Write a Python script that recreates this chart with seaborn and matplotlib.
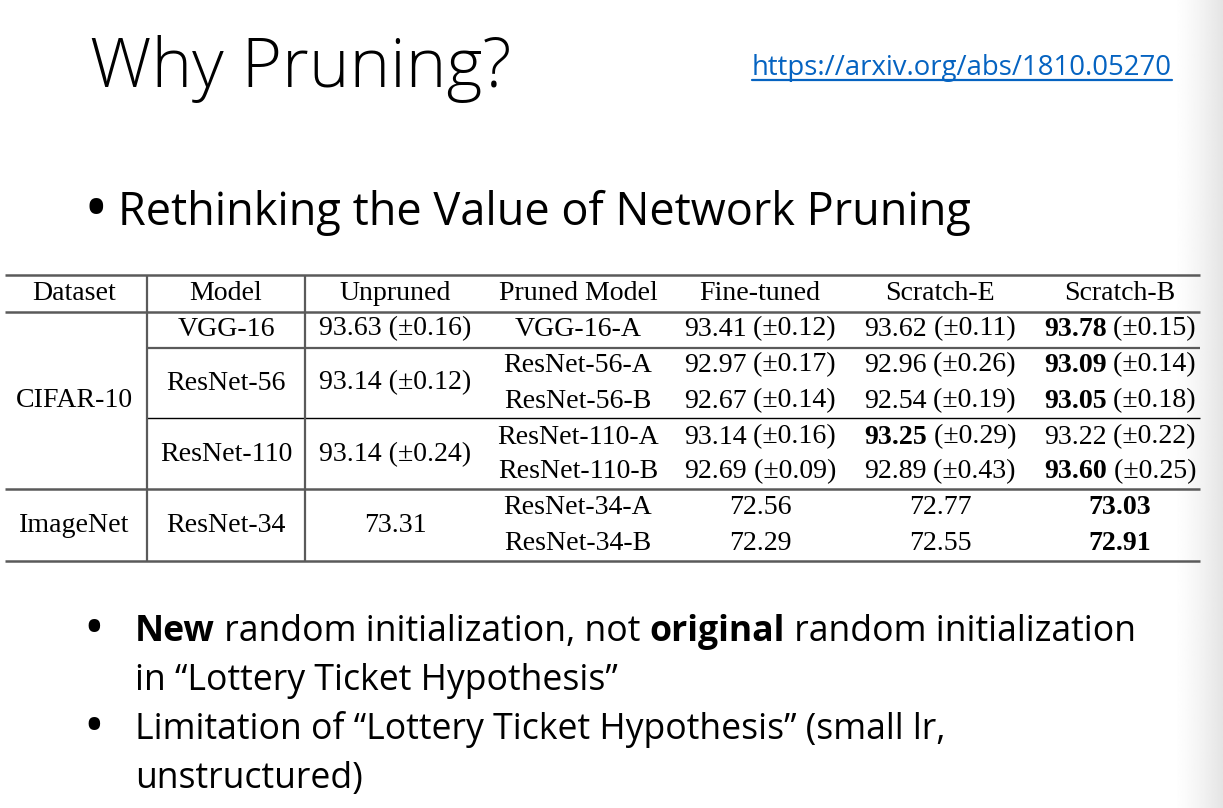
import numpy as np
import pandas as pd
import matplotlib
matplotlib.use("Agg")
import matplotlib.pyplot as plt
import seaborn as sns

# ---------------- data ----------------
title = "Why Pruning?"
url = "https://arxiv.org/abs/1810.05270"
bullet_main = "Rethinking the Value of Network Pruning"
headers = ["Dataset", "Model", "Unpruned", "Pruned Model", "Fine-tuned", "Scratch-E", "Scratch-B"]
datasets = ["CIFAR-10", "ImageNet"]
dataset_rows = [5, 2]
models = ["VGG-16", "ResNet-56", "ResNet-110", "ResNet-34"]
model_rows = [1, 2, 2, 2]
unpruned_mean = [93.63, 93.14, 93.14, 73.31]
unpruned_std = [0.16, 0.12, 0.24, None]
pruned_models = ["VGG-16-A", "ResNet-56-A", "ResNet-56-B", "ResNet-110-A",
                 "ResNet-110-B", "ResNet-34-A", "ResNet-34-B"]
fine_tuned = [93.41, 92.97, 92.67, 93.14, 92.69, 72.56, 72.29]
fine_tuned_std = [0.12, 0.17, 0.14, 0.16, 0.09, None, None]
scratch_e = [93.62, 92.96, 92.54, 93.25, 92.89, 72.77, 72.55]
scratch_e_std = [0.11, 0.26, 0.19, 0.29, 0.43, None, None]
scratch_b = [93.78, 93.09, 93.05, 93.22, 93.60, 73.03, 72.91]
scratch_b_std = [0.15, 0.14, 0.18, 0.22, 0.25, None, None]
notes = [
    [("New", "bold"), (" random initialization, not ", "normal"), ("original", "bold"),
     (" random initialization", "normal")],
    [("in “Lottery Ticket Hypothesis”", "normal")],
    [("Limitation of “Lottery Ticket Hypothesis” (small lr,", "normal")],
    [("unstructured)", "normal")],
]
note_bullets = [True, False, True, False]

# ---------------- figure ----------------
sns.set_theme(style="white")
plt.rcParams["text.color"] = "black"
W, H = 1223, 808
fig = plt.figure(figsize=(W / 100, H / 100), dpi=100)
ax = fig.add_axes([0, 0, 1, 1])
fig.patch.set_facecolor("white")
renderer = fig.canvas.get_renderer()

SANS = ["Open Sans", "DejaVu Sans"]
SERIF = ["Liberation Serif", "DejaVu Serif"]

# right-edge shadow
grad = 1.0 - 0.105 * np.linspace(0, 1, 60) ** 1.4
ax.imshow(np.tile(grad, (2, 1)), extent=[1172, W, H, 0], cmap="gray", vmin=0, vmax=1,
          aspect="auto", zorder=0, interpolation="bilinear")
ax.set_xlim(0, W)
ax.set_ylim(H, 0)
ax.axis("off")


def width_of(s, family, weight, size):
    t = ax.text(0, 0, s, fontsize=size, family=family, weight=weight)
    w = t.get_window_extent(renderer).width
    t.remove()
    return w


def fit(s, family, target, weight="normal"):
    return 40 * target / width_of(s, family, weight, 40)


def runs(x, y, parts, family, size, ha="left", color="black"):
    widths = [width_of(s, family, w, size) for s, w in parts]
    total = sum(widths)
    if ha == "center":
        x = x - total / 2
    for (s, w), wd in zip(parts, widths):
        ax.text(x, y, s, fontsize=size, family=family, weight=w, va="baseline",
                ha="left", color=color)
        x += wd


# title
ts = fit(title, SANS, 420, "light")
ax.text(90, 87, title, fontsize=ts, family=SANS, weight="light", va="baseline",
        color="black")

# url
us = fit(url, SANS, 420)
ax.text(752, 75, url, fontsize=us, family=SANS, va="baseline", color="#0563C1")
ax.plot([752, 1172], [79.5, 79.5], color="#0563C1", lw=1.6)

# main bullet
bs = fit(bullet_main, SANS, 852)
ax.text(96, 230, "•", fontsize=bs * 1.45, family=SANS, va="baseline", ha="center")
ax.text(118, 225, bullet_main, fontsize=bs, family=SANS, va="baseline")

# ---------------- table ----------------
col_x = [74, 226, 395, 578, 760, 940, 1120]
row_y = [327, 363, 399, 435, 470, 506, 541]
head_y = 292
fs = fit("93.63 (±0.16)", SERIF, 152)
off = 8.5

for cx, h in zip(col_x, headers):
    ax.text(cx, head_y + off, h, fontsize=fs, family=SERIF, ha="center", va="baseline")

r = 0
for d, n in zip(datasets, dataset_rows):
    cy = (row_y[r] + row_y[r + n - 1]) / 2
    ax.text(col_x[0], cy + off, d, fontsize=fs, family=SERIF, ha="center", va="baseline")
    r += n

r = 0
for m, n, um, us_ in zip(models, model_rows, unpruned_mean, unpruned_std):
    cy = (row_y[r] + row_y[r + n - 1]) / 2
    ax.text(col_x[1], cy + off, m, fontsize=fs, family=SERIF, ha="center", va="baseline")
    s = f"{um:.2f}" + (f" (±{us_:.2f})" if us_ is not None else "")
    ax.text(col_x[2], cy + off, s, fontsize=fs, family=SERIF, ha="center", va="baseline")
    r += n

cols = [(fine_tuned, fine_tuned_std), (scratch_e, scratch_e_std), (scratch_b, scratch_b_std)]
for i, pm in enumerate(pruned_models):
    y = row_y[i] + off
    ax.text(col_x[3], y, pm, fontsize=fs, family=SERIF, ha="center", va="baseline")
    vals = [c[0][i] for c in cols]
    best = int(np.argmax(vals))
    for j, (means, stds) in enumerate(cols):
        parts = [(f"{means[i]:.2f}", "bold" if j == best else "normal")]
        if stds[i] is not None:
            parts.append((f" (±{stds[i]:.2f})", "normal"))
        runs(col_x[4 + j], y, parts, SERIF, fs, ha="center")

gray = "#5a5a5a"
L, R = 5, 1200
ax.hlines([275, 311.5, 489, 561], L, R, color=gray, lw=1.8)
ax.hlines([348], 147, R, color=gray, lw=1.6)
ax.hlines([418], 147, R, color="black", lw=1.0)
ax.vlines([147, 305], 275, 561, color=gray, lw=1.6)

# ---------------- notes ----------------
ns = 40 * 1002 / sum(width_of(s, SANS, w, 40) for s, w in notes[0])
base_y = [641, 690, 739, 788]
for parts, has_b, y in zip(notes, note_bullets, base_y):
    if has_b:
        ax.text(94, y + 5, "•", fontsize=ns * 1.55, family=SANS, va="baseline", ha="center")
    runs(135, y, parts, SANS, ns)

fig.savefig("out.png", dpi=100, facecolor="white")
